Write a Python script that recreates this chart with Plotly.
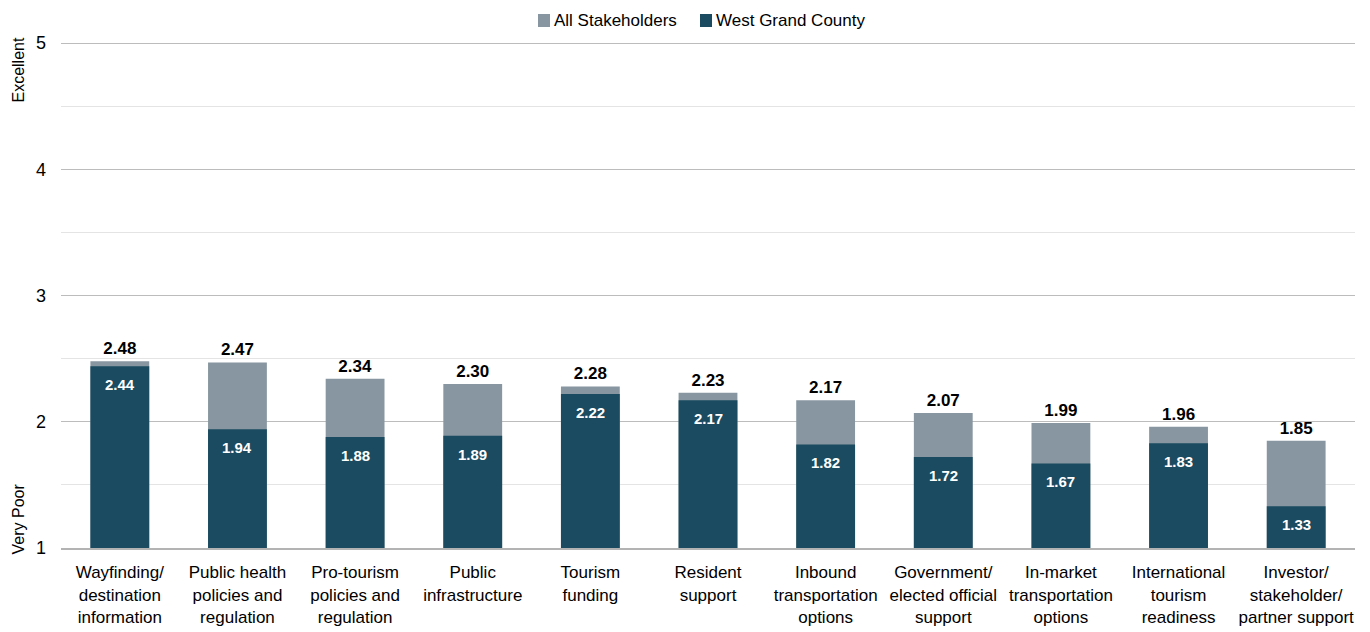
import plotly.graph_objects as go

categories = [
    "Wayfinding/<br>destination<br>information",
    "Public health<br>policies and<br>regulation",
    "Pro-tourism<br>policies and<br>regulation",
    "Public<br>infrastructure",
    "Tourism<br>funding",
    "Resident<br>support",
    "Inbound<br>transportation<br>options",
    "Government/<br>elected official<br>support",
    "In-market<br>transportation<br>options",
    "International<br>tourism<br>readiness",
    "Investor/<br>stakeholder/<br>partner support",
]
all_stakeholders = [2.48, 2.47, 2.34, 2.30, 2.28, 2.23, 2.17, 2.07, 1.99, 1.96, 1.85]
west_grand = [2.44, 1.94, 1.88, 1.89, 2.22, 2.17, 1.82, 1.72, 1.67, 1.83, 1.33]
series_names = ["All Stakeholders", "West Grand County"]

GRAY = "#8796a0"
TEAL = "#1a4b60"
FONT = "Liberation Sans, Arial, sans-serif"

W, H = 1370, 632
M_L, M_R, M_T, M_B = 61, 15, 42, 84

fig = go.Figure()
fig.add_trace(go.Bar(
    name=series_names[0],
    x=categories,
    y=all_stakeholders,
    marker=dict(color=GRAY, line=dict(width=0)),
    width=0.5,
    text=[f"{v:.2f}" for v in all_stakeholders],
    textposition="outside",
    constraintext="none",
    textfont=dict(family=FONT, size=17, color="#000000", weight="bold"),
    cliponaxis=False,
))
fig.add_trace(go.Bar(
    name=series_names[1],
    x=categories,
    y=west_grand,
    marker=dict(color=TEAL, line=dict(width=0)),
    width=0.5,
))

# White value labels just inside the top of each dark bar
for cat, v in zip(categories, west_grand):
    fig.add_annotation(
        x=cat, y=v, xref="x", yref="y",
        text=f"<b>{v:.2f}</b>", showarrow=False,
        yanchor="top", yshift=-8,
        font=dict(family=FONT, size=15, color="#ffffff"),
    )

fig.update_layout(
    barmode="overlay",
    width=W,
    height=H,
    margin=dict(l=M_L, r=M_R, t=M_T, b=M_B, autoexpand=False),
    plot_bgcolor="#ffffff",
    paper_bgcolor="#ffffff",
    font=dict(family=FONT, size=16, color="#000000"),
    showlegend=False,
)

# Legend drawn as coloured squares with text, centred above the plot
plot_w = W - M_L - M_R
plot_h = H - M_T - M_B


def px_x(px):
    return (px - M_L) / plot_w


def px_y(py):
    return (H - M_B - py) / plot_h


legend_items = [(series_names[0], GRAY, 538), (series_names[1], TEAL, 700)]
for name, color, left in legend_items:
    fig.add_shape(
        type="rect", xref="paper", yref="paper",
        x0=px_x(left), x1=px_x(left + 12), y0=px_y(27), y1=px_y(14),
        fillcolor=color, line=dict(width=0),
    )
    fig.add_annotation(
        text=name, xref="paper", yref="paper",
        x=px_x(left + 14), y=px_y(20.5), xanchor="left", yanchor="middle",
        showarrow=False, font=dict(family=FONT, size=17, color="#000000"),
    )

fig.update_xaxes(
    showline=True,
    linecolor="#b3b3b3",
    linewidth=2,
    ticks="",
    ticklabelstandoff=8,
    tickfont=dict(family=FONT, size=17, color="#000000"),
    showgrid=False,
)
fig.update_yaxes(
    range=[1, 5.008],
    dtick=1,
    tick0=1,
    showgrid=True,
    gridcolor="#bcbcbc",
    gridwidth=1,
    zeroline=False,
    showline=False,
    ticks="",
    ticklabelstandoff=14,
    tickfont=dict(family=FONT, size=18, color="#000000"),
    minor=dict(dtick=0.5, tick0=1, showgrid=True, gridcolor="#e4e4e4", gridwidth=1),
)

# Scale-end descriptors beside the value axis
fig.add_annotation(
    text="Excellent", xref="paper", yref="paper", x=px_x(18), y=px_y(35),
    xanchor="center", yanchor="top", textangle=-90, showarrow=False,
    font=dict(family=FONT, size=16, color="#000000"),
)
fig.add_annotation(
    text="Very Poor", xref="paper", yref="paper", x=px_x(18), y=px_y(556),
    xanchor="center", yanchor="bottom", textangle=-90, showarrow=False,
    font=dict(family=FONT, size=16, color="#000000"),
)

fig.write_html("out.html")
